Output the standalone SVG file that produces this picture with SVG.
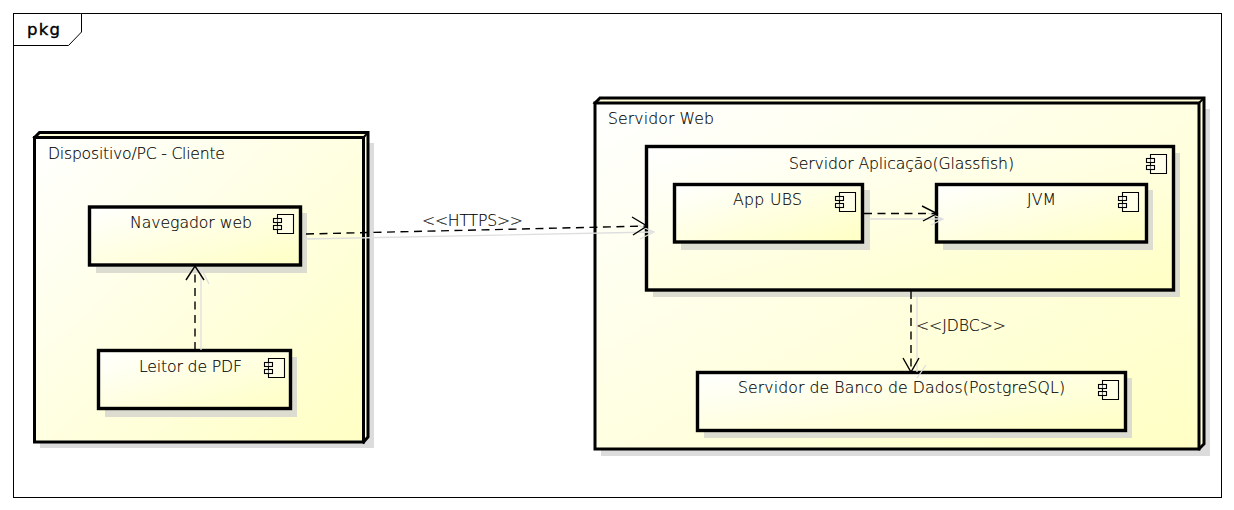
<svg xmlns="http://www.w3.org/2000/svg" width="1234" height="510" viewBox="0 0 1234 510">
<style>
text{font-family:"DejaVu Sans","Liberation Sans",sans-serif;font-size:15.7px;font-weight:200;fill:#000;stroke:#000;stroke-width:.15}
.sh{fill:#dcdcd0;stroke:none}
.nsh{fill:#dcdcdc;stroke:none}
.box{fill:url(#g);stroke:#000;stroke-width:3.4}
.nd{fill:url(#g);stroke:#000;stroke-width:3}
.side{fill:#ffffd8;stroke:#000;stroke-width:3;stroke-linejoin:miter}
.ic{fill:#fff;fill-opacity:.4;stroke:#000;stroke-width:1.1}
.dep{fill:none;stroke:#000;stroke-width:1.4;stroke-dasharray:8 5.500}
.head{fill:none;stroke:#000;stroke-width:1.400}
.dsh{fill:none;stroke:#dedede;stroke-width:1.300}
</style>
<defs>
<linearGradient id="g" x1="0" y1="0" x2="1" y2="1">
<stop offset="0" stop-color="#ffffff"/>
<stop offset="1" stop-color="#ffffc4"/>
</linearGradient>
<symbol id="icon" overflow="visible">
<path class="ic" d="M4.500 0.500H20.500V19.500H4.500Z"/>
<rect class="ic" x="0.500" y="4.500" width="8" height="4"/>
<rect class="ic" x="0.500" y="11.500" width="8" height="4"/>
</symbol>
</defs>
<rect width="1234" height="510" fill="#fff"/>
<g id="frame">
<rect x="13.500" y="13.500" width="1208" height="484" fill="#fff" stroke="#000" stroke-width="1"/>
<path d="M13.500 45.500H68.500L81.500 32V13.500" fill="#fff" stroke="#000" stroke-width="1"/>
<text x="27" y="35" style="font-weight:400;font-size:16.500px;stroke-width:.35" textLength="33">pkg</text>
</g>
<g id="node-cliente">
<path class="nsh" d="M40 143H374V448H40Z"/>
<path class="side" d="M34.500 137.500L39.500 132.500H368L368 437L363.500 442Z"/>
<rect class="nd" x="34.500" y="137.500" width="329" height="304.500"/>
<path d="M363.500 137.500L368 132.500" stroke="#000" stroke-width="2" fill="none"/>
<text x="48" y="158.500" textLength="177">Dispositivo/PC - Cliente</text>
</g>
<g id="comp-navegador">
<rect class="sh" x="96" y="213" width="211" height="60"/>
<rect class="box" x="89.500" y="207" width="211" height="58"/>
<text x="130" y="227.500" textLength="122">Navegador web</text>
<use href="#icon" x="273" y="214"/>
</g>
<g id="comp-leitor">
<rect class="sh" x="105" y="357" width="192" height="60"/>
<rect class="box" x="98.500" y="350.500" width="192" height="58"/>
<text x="139" y="371.500" textLength="103">Leitor de PDF</text>
<use href="#icon" x="264" y="358"/>
</g>
<g id="node-servidor">
<path class="nsh" d="M601 109H1210V456H601Z"/>
<path class="side" d="M595 103L600 98H1204V444L1199 449Z"/>
<rect class="nd" x="595" y="103" width="604" height="346"/>
<path d="M1199 103L1204 98" stroke="#000" stroke-width="2" fill="none"/>
<text x="608" y="123.500" textLength="106">Servidor Web</text>
</g>
<g id="comp-aplicacao">
<rect class="sh" x="653" y="153" width="527" height="144"/>
<rect class="box" x="646.500" y="146.500" width="527" height="143.500"/>
<text x="789" y="168.500" textLength="225">Servidor Aplicação(Glassfish)</text>
<use href="#icon" x="1146" y="154"/>
</g>
<g id="comp-app-ubs">
<rect class="sh" x="681" y="190" width="189" height="60"/>
<rect class="box" x="674.500" y="184.500" width="188" height="57.500"/>
<text x="733" y="205" textLength="69">App UBS</text>
<use href="#icon" x="835" y="192"/>
</g>
<g id="comp-jvm">
<rect class="sh" x="943" y="190" width="210" height="60"/>
<rect class="box" x="936.500" y="184.500" width="210" height="57.500"/>
<text x="1027" y="205" textLength="29">JVM</text>
<use href="#icon" x="1118" y="192"/>
</g>
<g id="comp-banco">
<rect class="sh" x="704" y="378" width="428" height="60"/>
<rect class="box" x="697.500" y="372.500" width="428" height="58"/>
<text x="738" y="393" textLength="327">Servidor de Banco de Dados(PostgreSQL)</text>
<use href="#icon" x="1098" y="380"/>
</g>
<g id="connectors">
<path class="dsh" d="M305 239L654 232M638 225L654 232L640 239"/>
<path class="dsh" d="M201 350V268M201 268L209 284"/>
<path class="dsh" d="M867 219H943M928 213L943 219L931 225"/>
<path class="dsh" d="M917 296V372M917 378L926 365"/>
<path class="dep" d="M306 234L648 226"/>
<path class="head" d="M632 217L647 226L633 235"/>
<path class="dep" d="M195 350V270"/>
<path class="head" d="M186 280L195 266L204 280"/>
<path class="dep" d="M864 213.500H936"/>
<path class="head" d="M922 206L937 213.500L923 221"/>
<path class="dep" d="M911 291V370"/>
<path class="head" d="M903 358L911 372L919 358"/>
<text x="422" y="226" textLength="101">&lt;&lt;HTTPS&gt;&gt;</text>
<text x="916" y="331" textLength="90">&lt;&lt;JDBC&gt;&gt;</text>
</g>
</svg>
